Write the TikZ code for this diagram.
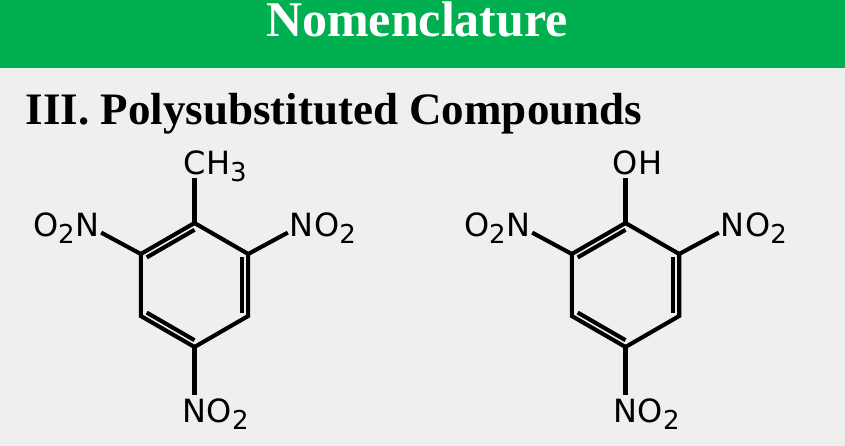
\documentclass[tikz,border=0pt]{standalone}
\usepackage{fontspec}
\setmainfont{Liberation Serif}
\newfontfamily\chemfont{DejaVu Sans}
\usetikzlibrary{calc}
\definecolor{headgreen}{RGB}{0,175,80}
\definecolor{slidegray}{RGB}{239,239,239}
\tikzset{ bond/.style={line width=4.1pt,line cap=butt},
  atom/.style={inner sep=0pt,font=\chemfont\fontsize{32}{32}\selectfont} }
\newcommand{\chsub}[1]{\raisebox{-7pt}{\fontsize{26}{26}\selectfont #1}}

\begin{document}
\begin{tikzpicture}[x=1pt,y=-1pt]
   \fill[slidegray] (0,0) rectangle (845,446);
   \useasboundingbox (0,0) rectangle (845,446);
   \fill[headgreen] (0,0) rectangle (845,68.5);
   \node[font=\bfseries\fontsize{50}{50}\selectfont,text=white,inner sep=0pt,text height=33pt,text depth=0pt,anchor=base] (head) at (417,36.7) {Nomenclature};
   \node[font=\bfseries\fontsize{45}{45}\selectfont,inner sep=0pt,anchor=base west] (title) at (25.5,125) {III. Polysubstituted Compounds};
   \foreach \m/\cx/\topatom/\toprest in {L/194.5/C/{H\chsub{3}},R/625.5/O/H} {
     \coordinate (\m c) at (\cx,285);
     \foreach \i/\a in {1/-90,2/-30,3/30,4/90,5/150,6/210}
       \coordinate (\m\i) at ($(\m c)+(\a:62)$);
     \draw[bond,line join=miter] (\m1) -- (\m2) -- (\m3) -- (\m4) -- (\m5) -- (\m6) -- cycle;
     \draw[bond] ($(\m c)!0.89!(\m1)$) -- ($(\m c)!0.89!(\m6)$);
     \draw[bond] ($(\m c)!0.89!(\m2)$) -- ($(\m c)!0.89!(\m3)$);
     \draw[bond] ($(\m c)!0.89!(\m4)$) -- ($(\m c)!0.89!(\m5)$);
     % substituents
     \node[atom] (\m top) at ($(\m1)+(0,-60)$) {\topatom};
     \node[atom,anchor=base west] (\m toprest) at (\m top.base east) {\toprest};
     \node[atom] (\m no2a) at ($(\m2)+(-30:62)+(0,2)$) {N};
     \node[atom,anchor=base west] (\m no2ao) at (\m no2a.base east) {O\chsub{2}};
     \node[atom] (\m no2b) at ($(\m4)+(0,64)$) {N};
     \node[atom,anchor=base west] (\m no2bo) at (\m no2b.base east) {O\chsub{2}};
     \node[atom] (\m no2c) at ($(\m6)+(210:62)+(0,2)$) {N};
     \node[atom,anchor=base east] (\m no2co) at (\m no2c.base west) {O\chsub{2}};
     \draw[bond,shorten >=15pt] (\m1) -- (\m top.center);
     \draw[bond,shorten >=16pt] (\m2) -- (\m no2a.center);
     \draw[bond,shorten >=16pt] (\m4) -- (\m no2b.center);
     \draw[bond,shorten >=16pt] (\m6) -- (\m no2c.center);
   }
\end{tikzpicture}
\end{document}
